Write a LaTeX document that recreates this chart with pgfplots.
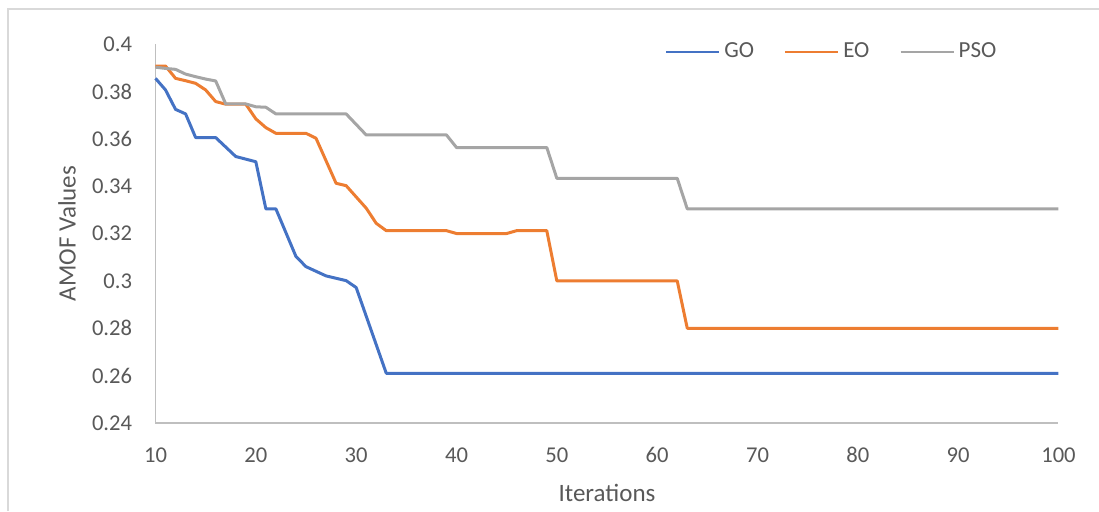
\documentclass[border=0pt]{standalone}
\usepackage{fontspec}
\setmainfont{Carlito}
\usepackage{pgfplots}
\pgfplotsset{compat=1.18}
\definecolor{goblue}{HTML}{4472C4}
\definecolor{eoorange}{HTML}{ED7D31}
\definecolor{psogray}{HTML}{A5A5A5}
\definecolor{txtgray}{HTML}{595959}
\definecolor{axgray}{HTML}{BFBFBF}
\definecolor{bordergray}{HTML}{D9D9D9}
\begin{document}
\begin{tikzpicture}
\begin{axis}[
  scale only axis,
  width=451.5pt, height=189.5pt,
  xmin=10, xmax=100, ymin=0.24, ymax=0.4,
  axis x line=bottom, axis y line=left,
  axis line style={axgray, line width=0.75pt, -},
  xtick={10,20,30,40,50,60,70,80,90,100},
  xticklabels={10,20,30,40,50,60,70,80,90,100},
  ytick={0.24,0.26,0.28,0.30,0.32,0.34,0.36,0.38,0.40},
  yticklabels={0.24,0.26,0.28,0.3,0.32,0.34,0.36,0.38,0.4},
  major tick length=0pt,
  tick label style={font=\fontsize{11.3}{13}\selectfont, text=txtgray, inner sep=0pt},
  xticklabel style={anchor=north, yshift=-12pt},
  yticklabel style={anchor=east, xshift=-11.5pt},
  xlabel={Iterations}, ylabel={AMOF Values},
  label style={font=\fontsize{12.5}{15}\selectfont, text=txtgray},
  xlabel style={at={(axis description cs:0.5,-0.185)}, anchor=center},
  ylabel style={at={(axis description cs:-0.098,0.5)}, anchor=center},
  legend columns=3,
  legend style={draw=none, fill=none, at={(0.564,0.979)}, anchor=west,
    font=\fontsize{11.5}{13}\selectfont, text=txtgray, inner sep=0pt,
    /tikz/every even column/.append style={column sep=13pt}},
  legend image code/.code={\draw[#1, line width=1.1pt] (0pt,0pt) -- (26.5pt,0pt);},
  every axis plot/.append style={line width=1.5pt, line join=round},
  clip=false,
]
\addplot[goblue] coordinates {
(10,0.3855)(11,0.3806)(12,0.3724)(13,0.3705)(14,0.3605)(16,0.3605)(18,0.3525)(20,0.3503)
(21,0.3304)(22,0.3304)(24,0.3103)(25,0.306)(27,0.3021)(29,0.3001)(30,0.2972)(33,0.261)(100,0.261)};
\addlegendentry{GO}
\addplot[eoorange] coordinates {
(10,0.3907)(11,0.3907)(12,0.3855)(13,0.3845)(14,0.3834)(15,0.3806)(16,0.3757)(17,0.3746)(19,0.3746)
(20,0.3684)(21,0.3647)(22,0.3623)(25,0.3623)(26,0.3602)(28,0.3412)(29,0.3402)(31,0.3307)(32,0.3243)
(33,0.3212)(39,0.3212)(40,0.320)(45,0.320)(46,0.3212)(49,0.3212)(50,0.300)(62,0.300)(63,0.280)(100,0.280)};
\addlegendentry{EO}
\addplot[psogray] coordinates {
(10,0.3902)(11,0.3897)(12,0.3893)(13,0.3873)(14,0.3862)(15,0.3852)(16,0.3844)(17,0.3747)(19,0.3747)
(20,0.3735)(21,0.3733)(22,0.3705)(29,0.3705)(31,0.3616)(39,0.3616)(40,0.3563)(49,0.3563)
(50,0.3433)(62,0.3433)(63,0.3304)(100,0.3304)};
\addlegendentry{PSO}
\end{axis}
\draw[bordergray, line width=0.75pt] (-73.75pt,-44pt) -- (-73.75pt,207pt) -- (471.75pt,207pt);
\pgfresetboundingbox
\path[use as bounding box] (-77.75pt,-44pt) rectangle (471.75pt,211.5pt);
\end{tikzpicture}
\end{document}
